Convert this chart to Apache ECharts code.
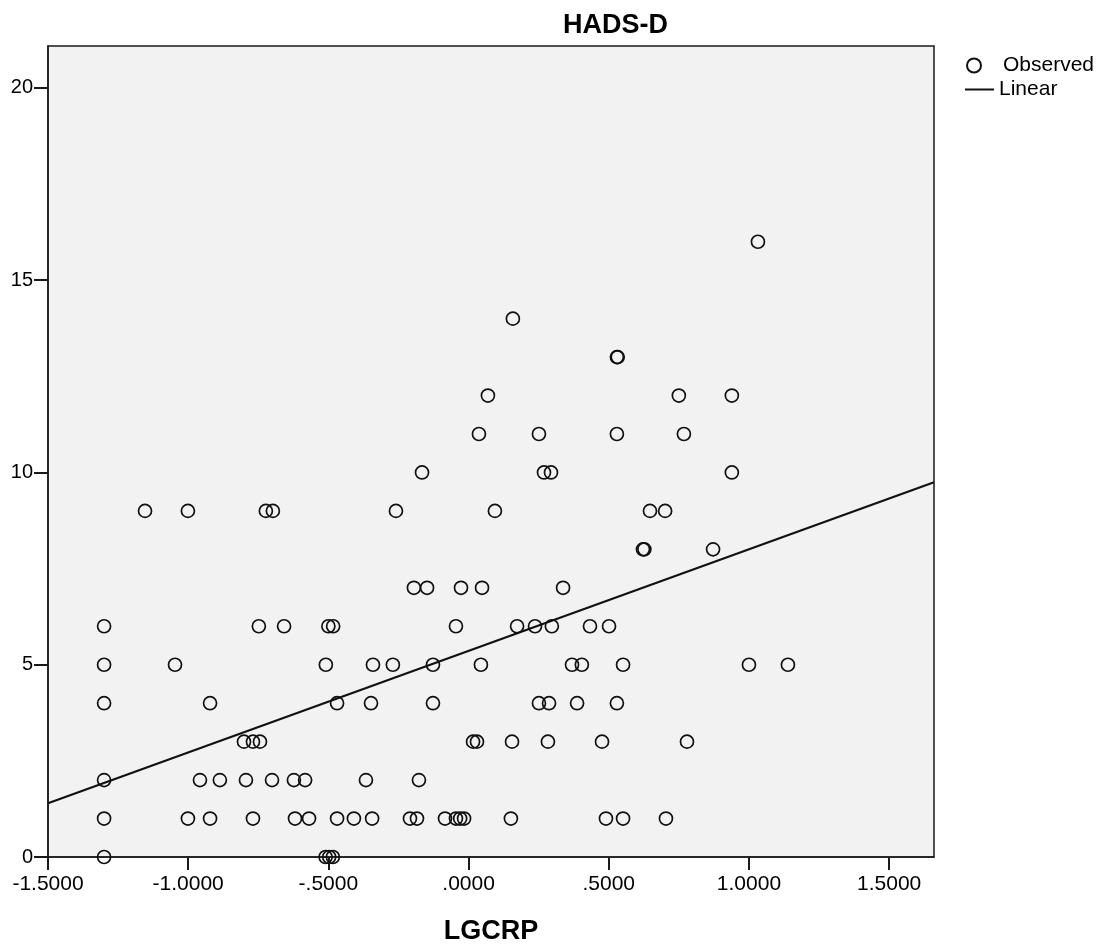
<!DOCTYPE html>
<html>
<head>
<meta charset="utf-8">
<script src="https://cdn.jsdelivr.net/npm/echarts@6/dist/echarts.min.js"></script>
<style>
  html, body { margin: 0; padding: 0; background: #fff; }
  #chart { width: 1105px; height: 950px; }
</style>
</head>
<body>
<div id="chart"></div>
<script>
// ---- Data ----
const chartTitle = 'HADS-D';
const xAxisName = 'LGCRP';
const legendNames = ['Observed', 'Linear'];

// Observed points: LGCRP (x) paired with HADS-D score (y)
const lgcrp = [
  -1.300, -0.510, -0.497, -0.484,
  -1.300, -1.001, -0.922, -0.769, -0.619, -0.569, -0.469, -0.409, -0.344, -0.209, -0.184, -0.084, -0.045, -0.030, -0.016, 0.151, 0.490, 0.551, 0.704,
  -1.300, -0.958, -0.887, -0.794, -0.701, -0.623, -0.583, -0.366, -0.177,
  -0.801, -0.769, -0.744, 0.016, 0.030, 0.155, 0.283, 0.476, 0.779,
  -1.300, -0.922, -0.469, -0.348, -0.127, 0.251, 0.287, 0.387, 0.529,
  -1.300, -1.047, -0.509, -0.341, -0.270, -0.127, 0.044, 0.369, 0.404, 0.551, 1.000, 1.139,
  -1.300, -0.748, -0.658, -0.500, -0.483, -0.045, 0.173, 0.237, 0.297, 0.433, 0.501,
  -0.195, -0.148, -0.027, 0.048, 0.337,
  0.622, 0.627, 0.872,
  -1.154, -1.001, -0.723, -0.698, -0.259, 0.094, 0.647, 0.701,
  -0.166, 0.269, 0.294, 0.939,
  0.037, 0.251, 0.529, 0.768,
  0.069, 0.750, 0.939,
  0.529, 0.532,
  0.158,
  1.032
];
const hadsD = [
  0, 0, 0, 0,
  1, 1, 1, 1, 1, 1, 1, 1, 1, 1, 1, 1, 1, 1, 1, 1, 1, 1, 1,
  2, 2, 2, 2, 2, 2, 2, 2, 2,
  3, 3, 3, 3, 3, 3, 3, 3, 3,
  4, 4, 4, 4, 4, 4, 4, 4, 4,
  5, 5, 5, 5, 5, 5, 5, 5, 5, 5, 5, 5,
  6, 6, 6, 6, 6, 6, 6, 6, 6, 6, 6,
  7, 7, 7, 7, 7,
  8, 8, 8,
  9, 9, 9, 9, 9, 9, 9, 9,
  10, 10, 10, 10,
  11, 11, 11, 11,
  12, 12, 12,
  13, 13,
  14,
  16
];

// Linear fit
const fitIntercept = 5.36;
const fitSlope = 2.642;

// Axes
const xMin = -1.5, xMax = 1.66;
const yMin = 0, yMax = 21.09;
const xTicks = [-1.5, -1.0, -0.5, 0, 0.5, 1.0, 1.5];
const yTicks = [0, 5, 10, 15, 20];

// ---- Build series ----
const observed = lgcrp.map((x, i) => [x, hadsD[i]]);
const fitLine = [xMin, xMax].map(x => [x, fitIntercept + fitSlope * x]);

function fmtX(v) {
  return Number(v).toFixed(4).replace(/^(-?)0\./, '$1.');
}

const FONT = '"Liberation Sans", Arial, Helvetica, sans-serif';

const chart = echarts.init(document.getElementById('chart'), null, { renderer: 'canvas' });
chart.setOption({
  backgroundColor: '#ffffff',
  animation: false,
  title: {
    text: chartTitle,
    left: 558,
    top: 7,
    textStyle: { fontFamily: FONT, fontSize: 27, fontWeight: 'bold', color: '#000' }
  },
  legend: [
    {
      data: [legendNames[0]],
      orient: 'vertical',
      left: 966,
      top: 55,
      padding: 0,
      itemWidth: 14,
      itemHeight: 14,
      textStyle: { fontFamily: FONT, fontSize: 21, color: '#000', padding: [0, 0, 0, 17] }
    },
    {
      data: [{ name: legendNames[1], icon: 'rect' }],
      orient: 'vertical',
      left: 965,
      top: 79,
      padding: 0,
      itemWidth: 29,
      itemHeight: 2,
      itemStyle: { color: '#111' },
      textStyle: { fontFamily: FONT, fontSize: 21, color: '#000' }
    }
  ],
  grid: {
    left: 48,
    top: 46,
    width: 886,
    height: 813,
    show: true,
    backgroundColor: '#f2f2f2',
    borderColor: '#1a1a1a',
    borderWidth: 1.5
  },
  xAxis: {
    type: 'value',
    min: xMin,
    max: xMax,
    name: xAxisName,
    nameLocation: 'middle',
    nameGap: 61,
    nameTextStyle: { fontFamily: FONT, fontSize: 27, fontWeight: 'bold', color: '#000' },
    splitLine: { show: false },
    axisLine: { show: true, onZero: false, lineStyle: { color: '#1a1a1a', width: 1.5 } },
    axisTick: { show: true, customValues: xTicks, length: 13, inside: false, lineStyle: { color: '#1a1a1a', width: 2 } },
    axisLabel: {
      customValues: xTicks,
      formatter: fmtX,
      margin: 17,
      fontFamily: FONT, fontSize: 21, color: '#000'
    }
  },
  yAxis: {
    type: 'value',
    min: yMin,
    max: yMax,
    splitLine: { show: false },
    axisLine: { show: true, onZero: false, lineStyle: { color: '#1a1a1a', width: 1.5 } },
    axisTick: { show: true, customValues: yTicks, length: 14, inside: false, lineStyle: { color: '#1a1a1a', width: 2 } },
    axisLabel: {
      customValues: yTicks,
      margin: 15,
      fontFamily: FONT, fontSize: 20, color: '#000'
    }
  },
  series: [
    {
      name: legendNames[0],
      type: 'scatter',
      data: observed,
      symbol: 'circle',
      symbolSize: 13,
      itemStyle: { color: 'rgba(0,0,0,0)', borderColor: '#111', borderWidth: 1.7, opacity: 1 },
      emphasis: { disabled: true },
      z: 3
    },
    {
      name: legendNames[1],
      type: 'line',
      data: fitLine,
      symbol: 'none',
      showSymbol: false,
      lineStyle: { color: '#111', width: 2.2 },
      itemStyle: { color: '#111' },
      emphasis: { disabled: true },
      z: 2
    }
  ]
});
</script>
</body>
</html>
